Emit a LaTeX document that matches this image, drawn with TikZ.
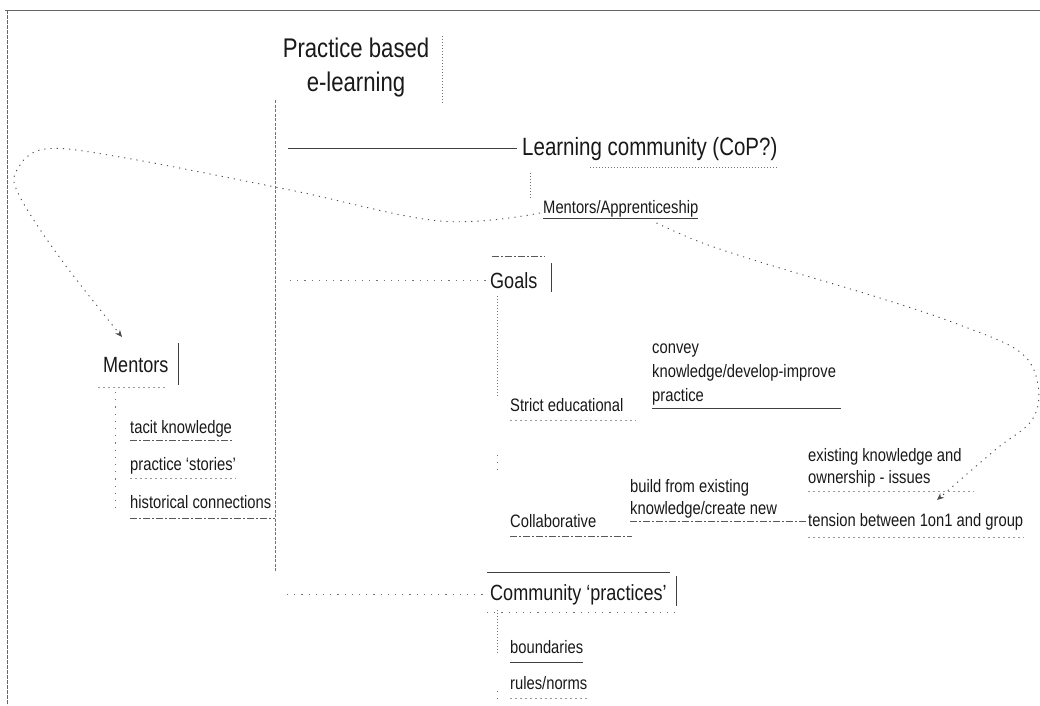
\documentclass[tikz,border=0pt]{standalone}
\usepackage{fontspec}
\setmainfont[FakeStretch=0.82]{Liberation Sans}
\usetikzlibrary{arrows.meta}

\begin{document}
\begin{tikzpicture}[x=1pt,y=-1pt,
  txt/.style={anchor=base west, inner sep=0pt, text=black!90, font=\fontsize{18}{22}\selectfont},
  midtxt/.style={txt, font=\fontsize{22}{26}\selectfont},
  headtxt/.style={txt, font=\fontsize{25}{30}\selectfont},
  framerule/.style={draw=black!60, line width=0.9pt},
  trunkrule/.style={draw=black!55, line width=0.8pt, dash pattern=on 3pt off 1.5pt},
  solidrule/.style={draw=black!75, line width=0.9pt},
  dashrule/.style={draw=black!65, line width=0.8pt, dash pattern=on 7pt off 2pt on 2pt off 2pt},
  dotrule/.style={draw=black!55, line width=0.8pt, dash pattern=on 1pt off 2pt},
  sparserule/.style={draw=black!55, line width=0.8pt, dash pattern=on 1.2pt off 6pt},
  faintrule/.style={draw=black!40, line width=0.7pt, dash pattern=on 2pt off 3pt},
  linkcurve/.style={draw=black!70, line width=0.9pt, dash pattern=on 1.2pt off 5pt,
    -{Stealth[length=7pt,width=6pt]}}
]
\useasboundingbox (0,0) rectangle (1040,705);
\fill[white] (0,0) rectangle (1040,705);

% page frame
\draw[framerule] (5,10) -- (1040,10);
\draw[framerule, dash pattern=on 4pt off 1pt] (7,10) -- (7,705);

% central topic
\node[font=\fontsize{27}{34}\selectfont, align=center, inner sep=0pt, text=black!90]
  (root) at (356,68) {Practice based\\e-learning};
\draw[dotrule] ([xshift=13pt,yshift=2pt]root.north east) -- ([xshift=13pt,yshift=-6pt]root.south east);

% main trunk
\coordinate (trunkTop) at (275,100);
\coordinate (trunkEnd) at (275,572);
\draw[trunkrule] (trunkTop) -- (trunkEnd);

% first level topics
\node[headtxt] (lc) at (522,155) {Learning community (CoP?)};
\node[midtxt] (goals) at (490,288) {Goals};
\node[midtxt] (cp) at (490,600) {Community ‘practices’};

\draw[solidrule] ([xshift=13pt]trunkTop |- lc.west) -- ([xshift=-5pt]lc.west);
\draw[sparserule] ([xshift=15pt]trunkTop |- goals.west) -- ([xshift=-4pt]goals.west);
\draw[sparserule] ([xshift=12pt]trunkTop |- cp.west) -- ([xshift=-4pt]cp.west);

% learning community
\node[txt] (ma) at (543,213) {Mentors/Apprenticeship};
\draw[dotrule] ([xshift=68pt,yshift=-12pt]lc.base west) -- ([yshift=-12pt]lc.base east);
\draw[dotrule] ([shift={(8pt,-18pt)}]lc.base west) -- ([xshift=8pt]lc.base west |- ma.north);
\draw[solidrule] ([yshift=-5pt]ma.base west) -- ([yshift=-5pt]ma.base east);

% goals
\draw[dashrule] ([shift={(2pt,32pt)}]goals.base west) -- ([shift={(55pt,32pt)}]goals.base west);
\draw[solidrule] ([shift={(61pt,25pt)}]goals.base west) -- ([shift={(61pt,-4pt)}]goals.base west);

% multi-line nodes sit on the baseline of their last line
\node[txt] (strict) at (510,411) {Strict educational};
\node[txt, align=left, font=\fontsize{18}{24}\selectfont] (convey) at (652,401)
  {convey\\knowledge/develop-improve\\practice};
\node[txt] (collab) at (510,527) {Collaborative};
\node[txt, align=left, font=\fontsize{18}{22}\selectfont] (build) at (630,514)
  {build from existing\\knowledge/create new};
\node[txt, align=left, font=\fontsize{18}{22}\selectfont] (owner) at (808,483)
  {existing knowledge and\\ownership - issues};
\node[txt] (tension) at (808,526) {tension between 1on1 and group};

\draw[dotrule] ([shift={(7pt,-8pt)}]goals.base west) -- ([xshift=7pt]goals.base west |- strict.north);
\draw[sparserule] ([shift={(-13pt,72pt)}]collab.base west) -- ([shift={(-13pt,57pt)}]collab.base west);

\draw[faintrule] ([yshift=-9pt]strict.base west) -- ([shift={(12pt,-9pt)}]strict.base east);
\draw[solidrule] ([yshift=-4pt]convey.south west) -- ([shift={(5pt,-4pt)}]convey.south east);
\draw[dashrule] ([yshift=-9pt]collab.base west) -- ([shift={(35pt,-9pt)}]collab.base east);
\draw[dashrule] ([yshift=-3pt]build.south west) -- ([yshift=-3pt]build.south west -| tension.west);
\draw[faintrule] ([yshift=-4pt]owner.south west) -- ([shift={(12pt,-4pt)}]owner.south east);
\draw[faintrule] ([yshift=-11pt]tension.base west) -- ([yshift=-11pt]tension.base east);

% community practices
\draw[solidrule] ([shift={(-3pt,28pt)}]cp.base west) -- ([shift={(3pt,28pt)}]cp.base east);
\draw[solidrule] ([shift={(10pt,24pt)}]cp.base east) -- ([shift={(10pt,-6pt)}]cp.base east);
\draw[sparserule] ([shift={(-3pt,-12pt)}]cp.base west) -- ([shift={(10pt,-12pt)}]cp.base east);

\node[txt] (bound) at (510,653) {boundaries};
\node[txt] (rules) at (510,689) {rules/norms};
\draw[dotrule] ([shift={(7pt,-10pt)}]cp.base west) -- ([xshift=7pt]cp.base west |- bound.base);
\draw[sparserule] ([shift={(-13pt,-10pt)}]rules.base west) -- ([shift={(-13pt,4pt)}]rules.base west);
\draw[solidrule] ([yshift=-9pt]bound.base west) -- ([yshift=-9pt]bound.base east);
\draw[faintrule] ([yshift=-9pt]rules.base west) -- ([yshift=-9pt]rules.base east);

% mentors
\node[midtxt] (mentors) at (103,372) {Mentors};
\node[txt] (tacit) at (130,433) {tacit knowledge};
\node[txt] (stories) at (130,470) {practice ‘stories’};
\node[txt] (hist) at (130,508) {historical connections};

\draw[solidrule] ([shift={(10pt,29pt)}]mentors.base east) -- ([shift={(10pt,-13pt)}]mentors.base east);
\draw[faintrule] ([shift={(-5pt,-15pt)}]mentors.base west) -- ([shift={(-3pt,-15pt)}]mentors.base east);
\draw[sparserule] ([shift={(12pt,-20pt)}]mentors.base west) -- ([xshift=-15pt]hist.base west);
\draw[dashrule] ([yshift=-7pt]tacit.base west) -- ([yshift=-7pt]tacit.base east);
\draw[faintrule] ([yshift=-8pt]stories.base west) -- ([yshift=-8pt]stories.base east);
\draw[dashrule] ([yshift=-10pt]hist.base west) -- ([yshift=-10pt]hist.base west -| trunkEnd);

% cross links
\coordinate (mentorsIn) at ([shift={(19pt,35pt)}]mentors.base west);
\draw[linkcurve] plot[smooth, tension=0.6] coordinates {
  ([xshift=-3pt]ma.base west) (440,221) (290,190) (120,157) (45,149) (17,170) (19,195) (60,258) (mentorsIn)};

\coordinate (tensionIn) at ([shift={(129pt,26pt)}]tension.base west);
\draw[linkcurve] plot[smooth, tension=0.6] coordinates {
  ([shift={(-42pt,-10pt)}]ma.base east) (700,242) (760,262) (880,298) (960,325) (1020,352)
  (1038,385) (1032,420) (995,450) (tensionIn)};
\end{tikzpicture}
\end{document}
